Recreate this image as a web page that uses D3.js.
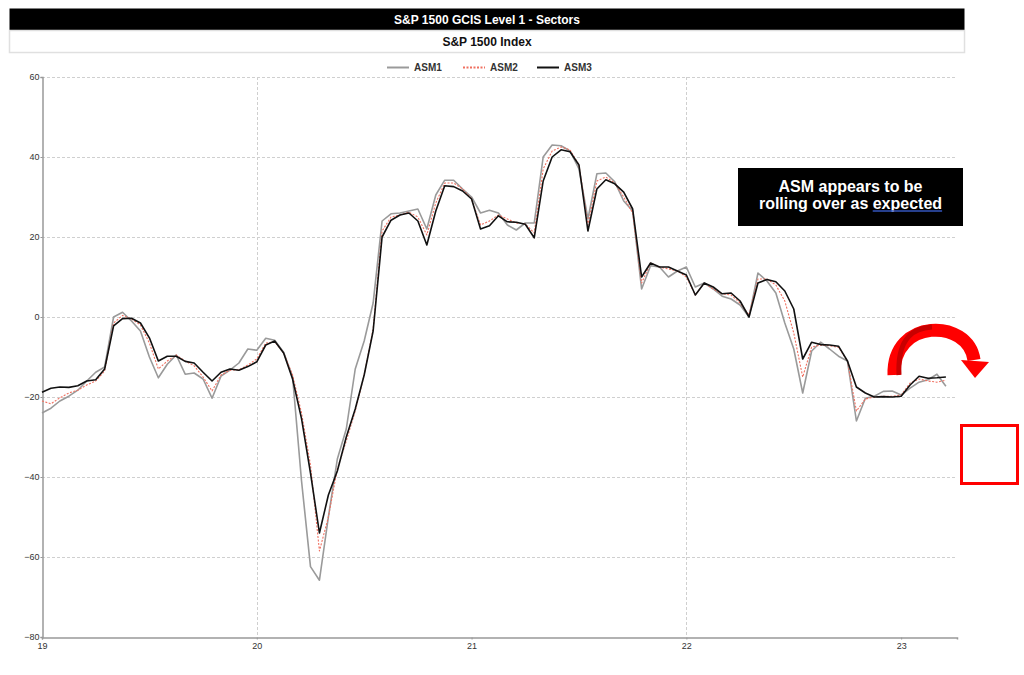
<!DOCTYPE html>
<html><head><meta charset="utf-8">
<script src="https://cdn.jsdelivr.net/npm/d3@7"></script>
<style>
body{margin:0;background:#fff;}
svg{display:block;font-family:"Liberation Sans",Arial,sans-serif;}
</style>
</head><body>
<svg id="c" width="1024" height="675"></svg>
<script>
// ---- data ----
const periods = d3.range(102).map(i => 19 + i / 24);   // semi-monthly periods, decimal years
const asm1 = [
  -24, -22.8, -21, -19.8, -18.3, -16, -13.8, -12.5, 0, 1.2, -1, -3.5, -10, -15.2, -11.8, -9.5, -14.3, -14, -15.5, -20.3, -14.8, -13.3, -11.5, -8,
  -8.3, -5.3, -5.8, -8.8, -15, -41, -62.4, -65.8, -50, -35.5, -28, -13, -6, 3.5, 24, 25.8, 26, 26.5, 27, 22, 30.5, 34.2, 34.2, 32,
  30, 26, 26.7, 26, 23, 21.75, 23.5, 23.5, 40, 43, 42.8, 41.5, 37, 24.5, 35.8, 36, 33.8, 29, 26.5, 7, 12.8, 12.5, 10, 11.5,
  12.5, 7.5, 8.5, 7, 5.2, 4.5, 3, 0, 11, 9, 6, -1.5, -8, -19, -8.5, -6.3, -8, -9.8, -11, -26, -20.3, -19.8, -18.6, -18.5, -19.5, -17.8, -16.3, -15.7, -14.3, -17.3
];
const asm2 = [
  -21, -21.7, -20.2, -19, -18.3, -17, -16, -13.5, -1.5, 0.4, -0.5, -2, -6.5, -13, -11, -9.5, -11, -12.2, -15, -18.5, -14.5, -13.3, -13.2, -12,
  -10.5, -6.5, -6.2, -9, -14.5, -24, -37, -58.5, -50, -38, -31, -23.5, -14.5, -3, 21.5, 25, 25.5, 26.2, 25, 20.5, 28.5, 33.5, 33.5, 32,
  29.5, 23, 24, 25.5, 24.5, 23.5, 23.3, 21, 37, 41.5, 42.5, 41.8, 38, 23, 34, 35, 33.5, 30, 26, 8.5, 13.5, 12.5, 12, 11.5,
  10, 5.5, 8.5, 7, 5.8, 5.5, 3.5, 0.5, 9.5, 9.5, 8, 4, -4, -15, -7.5, -7, -7.2, -7.6, -11, -23.5, -20.5, -20, -19.8, -19.8, -19.5, -16.5, -15.5, -16, -16.3, -15.8
];
const asm3 = [
  -18.8, -17.8, -17.5, -17.6, -17.2, -16, -15.7, -13, -2.2, -0.4, -0.3, -1.5, -5.2, -11, -9.8, -9.8, -11.1, -11.5, -13.8, -16, -13.8, -13, -13.3, -12.4,
  -11.2, -7, -6, -9, -15.5, -25.4, -39, -54, -44.5, -38.5, -30, -23, -14.5, -3.5, 20, 24.2, 25.5, 26, 24, 18, 26.5, 32.8, 32.6, 31.5,
  29.5, 22, 22.8, 25.3, 23.8, 23.7, 23.2, 19.8, 34, 40, 41.8, 41.3, 38, 21.5, 32, 34.3, 33.3, 31.2, 27, 10, 13.5, 12.5, 12.5, 11.5,
  10.5, 5.5, 8.5, 7.5, 5.8, 6, 4, 0, 8.5, 9.4, 8.8, 6.5, 2, -10.5, -6.3, -6.9, -7, -7.3, -11, -17.5, -19, -20, -19.9, -20, -19.8, -17, -14.8, -15.3, -15.2, -15
];
const seriesNames = ["ASM1", "ASM2", "ASM3"];
const yTicks = [-80, -60, -40, -20, 0, 20, 40, 60];
const xTicks = [19, 20, 21, 22, 23];
const xGrid = [20, 22];
const titleText = "S&P 1500 GCIS Level 1 - Sectors";
const subtitleText = "S&P 1500 Index";
const noteLines = ["ASM appears to be", "rolling over as expected"];

// ---- chart ----
const svg = d3.select("#c");
const x = d3.scaleLinear().domain([19, 23.26]).range([42, 957]);
const y = d3.scaleLinear().domain([-80, 60]).range([637, 77]);

// title bars
svg.append("rect").attr("x", 9.5).attr("y", 8.5).attr("width", 955).attr("height", 22).attr("fill", "#000");
svg.append("text").attr("x", 487).attr("y", 24).attr("text-anchor", "middle")
  .attr("fill", "#fff").attr("font-weight", "bold").attr("font-size", 12).text(titleText);
svg.append("rect").attr("x", 9.5).attr("y", 30.5).attr("width", 955).attr("height", 22)
  .attr("fill", "#fff").attr("stroke", "#e0e0e0").attr("stroke-width", 1.5);
svg.append("text").attr("x", 487).attr("y", 46).attr("text-anchor", "middle")
  .attr("fill", "#111").attr("font-weight", "bold").attr("font-size", 12).text(subtitleText);

// grid
svg.append("g").selectAll("line").data(yTicks.filter(v => v > -80)).join("line")
  .attr("x1", x.range()[0]).attr("x2", x.range()[1])
  .attr("y1", d => Math.round(y(d)) + 0.5).attr("y2", d => Math.round(y(d)) + 0.5)
  .attr("stroke", "#cfcfcf").attr("stroke-dasharray", "3,2");
svg.append("g").selectAll("line").data(xGrid).join("line")
  .attr("x1", d => Math.round(x(d)) + 0.5).attr("x2", d => Math.round(x(d)) + 0.5)
  .attr("y1", y(60)).attr("y2", y(-80))
  .attr("stroke", "#cfcfcf").attr("stroke-dasharray", "3,2");

// axes
const yAxis = svg.append("g").attr("transform", "translate(42.5,0)")
  .call(d3.axisLeft(y).tickValues(yTicks).tickSize(2).tickPadding(1).tickFormat(d3.format("d")));
const xAxis = svg.append("g").attr("transform", `translate(0,${y(-80) + 0.5})`)
  .call(d3.axisBottom(x).tickValues(xTicks).tickSize(2).tickPadding(3).tickFormat(d3.format("d")));
[yAxis, xAxis].forEach(a => {
  a.select(".domain").attr("stroke", "#999").attr("stroke-width", 1.5);
  a.selectAll(".tick line").attr("stroke", "#999");
  a.selectAll(".tick text").attr("fill", "#333").attr("font-size", 9).attr("font-family", '"Liberation Sans",Arial,sans-serif');
});

// lines
const line = d3.line().x((d, i) => x(periods[i])).y(d => y(d));
const styles = [
  { data: asm1, color: "#9a9a9a", width: 1.6, dash: null },
  { data: asm2, color: "#f07060", width: 1.1, dash: "2,1.5" },
  { data: asm3, color: "#111", width: 1.6, dash: null }
];
styles.forEach(s => {
  svg.append("path").datum(s.data).attr("d", line)
    .attr("fill", "none").attr("stroke", s.color).attr("stroke-width", s.width)
    .attr("stroke-dasharray", s.dash).attr("stroke-linejoin", "round");
});

// legend
const legendX = [387, 463, 537];
const lg = svg.append("g");
seriesNames.forEach((n, i) => {
  lg.append("line").attr("x1", legendX[i]).attr("x2", legendX[i] + 22).attr("y1", 67.5).attr("y2", 67.5)
    .attr("stroke", styles[i].color).attr("stroke-width", 2).attr("stroke-dasharray", styles[i].dash);
  lg.append("text").attr("x", legendX[i] + 27).attr("y", 71).attr("font-size", 10).attr("font-weight", "bold")
    .attr("fill", "#333").text(n);
});

// annotation box
svg.append("rect").attr("x", 738).attr("y", 168).attr("width", 225).attr("height", 58).attr("fill", "#000");
const t1 = svg.append("text").attr("x", 850.5).attr("y", 192).attr("text-anchor", "middle")
  .attr("fill", "#fff").attr("font-weight", "bold").attr("font-size", 16).text(noteLines[0]);
const t2 = svg.append("text").attr("x", 850.5).attr("y", 209).attr("text-anchor", "middle")
  .attr("fill", "#fff").attr("font-weight", "bold").attr("font-size", 16).text(noteLines[1]);
{
  const node = t2.node();
  const full = noteLines[1];
  const idx = full.indexOf("expected");
  const total = node.getComputedTextLength();
  const start = 850.5 - total / 2 + node.getSubStringLength(0, idx);
  const w = node.getSubStringLength(idx, 8);
  svg.append("line").attr("x1", start).attr("x2", start + w).attr("y1", 211).attr("y2", 211)
    .attr("stroke", "#3355bb").attr("stroke-width", 1.5);
}

// red curved arrow
svg.append("path").attr("d", "M894,375 C892,318 968,318 974,360")
  .attr("fill", "none").attr("stroke", "#ff0000").attr("stroke-width", 13);
svg.append("path").attr("d", "M899,375 C897,336 915,328 932,327")
  .attr("fill", "none").attr("stroke", "#c80000").attr("stroke-width", 5);
svg.append("path").attr("d", "M961,360 L989,362 L975,378 Z").attr("fill", "#ff0000");

// red square
svg.append("rect").attr("x", 961.5).attr("y", 425.5).attr("width", 56).attr("height", 58)
  .attr("fill", "none").attr("stroke", "#ff0000").attr("stroke-width", 3);
</script>
</body></html>
